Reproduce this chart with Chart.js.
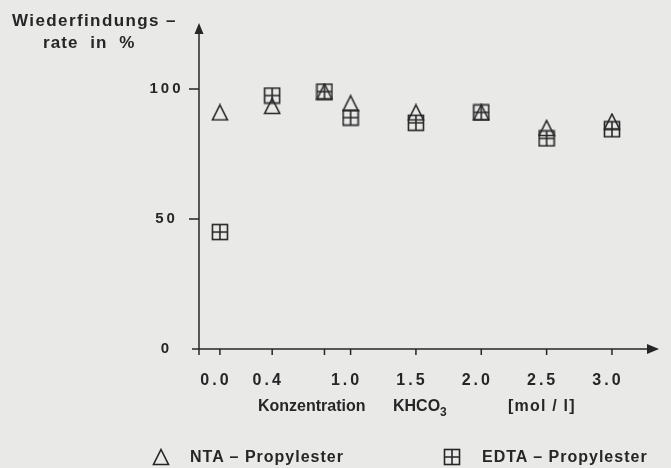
<!DOCTYPE html>
<html>
<head>
<meta charset="utf-8">
<script src="https://cdn.jsdelivr.net/npm/chart.js@4.4.1/dist/chart.umd.min.js"></script>
<style>
    html, body { margin: 0; padding: 0; background: #e9e9e8; }
    #wrap { position: relative; width: 671px; height: 468px; overflow: hidden;
            font-family: "Liberation Sans", Arial, sans-serif; color: #262626; }
    #chart { position: absolute; left: 0; top: 0; }
    .lbl { position: absolute; white-space: nowrap; font-size: 16px; font-weight: bold; line-height: 1; letter-spacing: 1px; }
    .lbl sub { font-size: 12px; vertical-align: -5px; letter-spacing: 0; }
    .icon { position: absolute; }
</style>
</head>
<body>
<div id="wrap">
    <canvas id="chart" width="671" height="468"></canvas>
    <div class="lbl" style="left:12px;top:12px;font-size:17px;letter-spacing:1.4px;">Wiederfindungs –</div>
    <div class="lbl" style="left:43px;top:34px;font-size:17px;letter-spacing:1.1px;">rate&nbsp; in&nbsp; %</div>
    <div class="lbl" style="left:258px;top:398px;letter-spacing:0px;">Konzentration</div>
    <div class="lbl" style="left:393px;top:398px;letter-spacing:0px;">KHCO<sub>3</sub></div>
    <div class="lbl" style="left:508px;top:398px;letter-spacing:1.2px;">[mol / l]</div>
    <canvas class="icon" id="legTri" width="18" height="18" style="left:152px;top:448px;"></canvas>
    <div class="lbl" style="left:190px;top:449px;">NTA – Propylester</div>
    <canvas class="icon" id="legSq" width="18" height="18" style="left:443px;top:448px;"></canvas>
    <div class="lbl" style="left:482px;top:449px;">EDTA – Propylester</div>
</div>
<script>
    const concentrations = [0.0, 0.4, 0.8, 1.0, 1.5, 2.0, 2.5, 3.0];
    const ntaValues = [91, 93.5, 99, 94.5, 91, 91, 85, 87.5];
    const edtaValues = [45, 97.5, 99, 89, 87, 91, 81, 84.5];
    const xTicks = [0.0, 0.4, 0.8, 1.0, 1.5, 2.0, 2.5, 3.0];
    const xUnlabeled = [0.8];
    const yTicks = [0, 50, 100];

    const ink = '#262626';

    function makeTriangle() {
        const c = document.createElement('canvas');
        c.width = 18; c.height = 18;
        const g = c.getContext('2d');
        g.strokeStyle = ink; g.lineWidth = 1.6; g.lineJoin = 'miter';
        g.beginPath();
        g.moveTo(9, 1.5); g.lineTo(16.5, 16.5); g.lineTo(1.5, 16.5); g.closePath();
        g.stroke();
        return c;
    }

    function makeSquare() {
        const c = document.createElement('canvas');
        c.width = 18; c.height = 18;
        const g = c.getContext('2d');
        g.strokeStyle = ink; g.lineWidth = 1.6;
        g.strokeRect(1.5, 1.5, 15, 15);
        g.beginPath();
        g.moveTo(9, 1.5); g.lineTo(9, 16.5);
        g.moveTo(1.5, 9); g.lineTo(16.5, 9);
        g.stroke();
        return c;
    }

    const triIcon = makeTriangle();
    const sqIcon = makeSquare();
    document.getElementById('legTri').getContext('2d').drawImage(triIcon, 0, 0);
    document.getElementById('legSq').getContext('2d').drawImage(sqIcon, 0, 0);

    const axesPlugin = {
        id: 'axes',
        beforeDraw(chart) {
            chart.ctx.letterSpacing = '3px';
        },
        beforeDatasetsDraw(chart) {
            const ctx = chart.ctx;
            ctx.letterSpacing = '0px';
            const xs = chart.scales.x, ys = chart.scales.y;
            const area = chart.chartArea;
            const x0 = area.left;
            const yZero = ys.getPixelForValue(0);
            ctx.save();
            ctx.strokeStyle = ink;
            ctx.fillStyle = ink;
            ctx.lineWidth = 1.5;

            // y axis with arrow
            ctx.beginPath();
            ctx.moveTo(x0, area.bottom);
            ctx.lineTo(x0, area.top + 8);
            ctx.stroke();
            ctx.beginPath();
            ctx.moveTo(x0, area.top - 1);
            ctx.lineTo(x0 + 4.5, area.top + 10);
            ctx.lineTo(x0 - 4.5, area.top + 10);
            ctx.closePath();
            ctx.fill();

            // x axis with arrow
            ctx.beginPath();
            ctx.moveTo(x0 - 7, yZero);
            ctx.lineTo(area.right - 8, yZero);
            ctx.stroke();
            ctx.beginPath();
            ctx.moveTo(area.right, yZero);
            ctx.lineTo(area.right - 12, yZero - 5);
            ctx.lineTo(area.right - 12, yZero + 5);
            ctx.closePath();
            ctx.fill();

            // tick marks
            ctx.beginPath();
            xTicks.forEach(v => {
                const px = xs.getPixelForValue(v);
                ctx.moveTo(px, yZero);
                ctx.lineTo(px, yZero + 6);
            });
            yTicks.forEach(v => {
                if (v === 0) return;
                const py = ys.getPixelForValue(v);
                ctx.moveTo(x0 - 10, py);
                ctx.lineTo(x0, py);
            });
            ctx.stroke();
            ctx.restore();
        }
    };

    const tickFont = { family: '"Liberation Sans", Arial, sans-serif', weight: 'bold' };

    new Chart(document.getElementById('chart'), {
        type: 'scatter',
        data: {
            datasets: [
                {
                    label: 'EDTA – Propylester',
                    data: concentrations.map((x, i) => ({ x: x, y: edtaValues[i] })),
                    pointStyle: sqIcon,
                    pointRadius: 8
                },
                {
                    label: 'NTA – Propylester',
                    data: concentrations.map((x, i) => ({ x: x, y: ntaValues[i] })),
                    pointStyle: triIcon,
                    pointRadius: 8
                }
            ]
        },
        options: {
            responsive: false,
            animation: false,
            events: [],
            layout: { padding: { left: 0, top: 24, right: 12, bottom: 83 } },
            plugins: {
                legend: { display: false },
                tooltip: { enabled: false }
            },
            scales: {
                x: {
                    type: 'linear',
                    min: -0.16,
                    max: 3.36,
                    grid: { display: false },
                    border: { display: false },
                    afterBuildTicks: s => { s.ticks = xTicks.map(v => ({ value: v })); },
                    afterFit: s => { s.height = 30; },
                    ticks: {
                        padding: 8,
                        labelOffset: -4,
                        color: ink,
                        font: Object.assign({ size: 16 }, tickFont),
                        maxRotation: 0,
                        autoSkip: false,
                        callback: v => xUnlabeled.includes(v) ? '' : v.toFixed(1)
                    }
                },
                y: {
                    min: -2.3,
                    max: 125,
                    grid: { display: false },
                    border: { display: false },
                    afterBuildTicks: s => { s.ticks = yTicks.map(v => ({ value: v })); },
                    afterFit: s => { s.width = 199; },
                    ticks: {
                        padding: 12,
                        crossAlign: 'center',
                        color: ink,
                        font: Object.assign({ size: 15 }, tickFont),
                        callback: v => String(v)
                    }
                }
            }
        },
        plugins: [axesPlugin]
    });
</script>
</body>
</html>
